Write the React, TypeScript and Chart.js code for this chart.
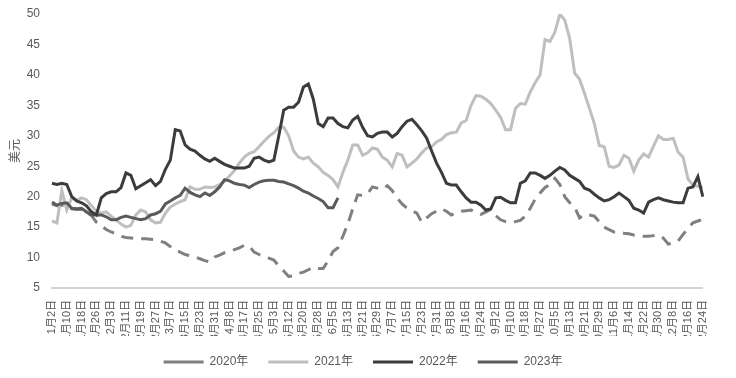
import React, { useEffect, useRef } from 'react';
import { Chart, registerables } from 'chart.js';

Chart.register(...registerables);

const FONT = "'Liberation Sans', 'Noto Sans CJK SC', sans-serif";

const tickLabels = [
  '1月2日', '1月10日', '1月18日', '1月26日', '2月3日', '2月11日', '2月19日', '2月27日',
  '3月7日', '3月15日', '3月23日', '3月31日', '4月8日', '4月17日', '4月25日', '5月3日',
  '5月12日', '5月20日', '5月28日', '6月5日', '6月13日', '6月21日', '6月29日', '7月7日',
  '7月15日', '7月23日', '7月31日', '8月8日', '8月16日', '8月24日', '9月2日', '9月10日',
  '9月18日', '9月27日', '10月5日', '10月13日', '10月21日', '10月29日', '11月6日', '11月14日',
  '11月22日', '11月30日', '12月8日', '12月16日', '12月24日',
];

// observations between two labelled dates
const SUB = 3;

const seriesNames = ['2020年', '2021年', '2022年', '2023年'];

const values2020 = [
  18.8, 18.5, 18.6, 18.6, 18.0, 17.9, 17.9, 17.4, 16.9, 15.8,
  15.2, 14.6, 14.2, 13.9, 13.5, 13.3, 13.2, 13.1, 13.1, 13.1,
  13.0, 12.9, 12.7, 12.4, 11.8, 11.2, 10.9, 10.5, 10.3, 10.1,
  9.8, 9.5, 9.3, 10.1, 10.4, 10.8, 11.0, 11.3, 11.6, 12.0,
  11.9, 10.9, 10.5, 10.1, 9.9, 9.6, 8.6, 7.8, 6.9, 7.0,
  7.4, 7.6, 8.0, 8.4, 8.2, 8.2, 9.5, 11.0, 11.6, 13.5,
  15.5, 18.0, 20.3, 20.2, 20.5, 21.6, 21.4, 21.2, 21.8, 21.0,
  19.8, 18.8, 18.1, 17.7, 17.3, 15.8, 16.5, 17.2, 17.6, 18.0,
  17.6, 17.0, 17.4, 17.6, 17.7, 17.8, 17.4, 17.1, 17.5, 17.9,
  16.9, 16.2, 15.9, 15.7, 15.9, 16.1, 16.8, 18.1, 19.6, 20.6,
  21.5, 22.0, 23.0, 22.0, 20.0, 19.0, 18.3, 16.5, 17.1, 17.0,
  16.8, 15.9, 15.0, 14.6, 14.2, 14.2, 14.0, 13.9, 13.7, 13.6,
  13.5, 13.5, 13.6, 13.7, 13.2, 12.2, 12.4, 12.7, 13.8, 14.8,
  15.7, 16.0, 16.3,
];

const values2021 = [
  16.0, 15.7, 21.0, 17.8, 19.8, 19.4, 19.8, 19.5, 18.5, 17.6,
  17.3, 17.5, 16.8, 16.2, 15.5, 15.0, 15.3, 17.0, 17.8, 17.5,
  16.2, 15.7, 15.8, 17.3, 18.3, 18.8, 19.2, 19.5, 21.6, 21.2,
  21.2, 21.6, 21.5, 21.6, 22.0, 22.5, 23.4, 24.3, 25.5, 26.5,
  27.1, 27.4, 28.2, 29.1, 29.9, 30.5, 31.4, 31.4, 30.0, 27.5,
  26.5, 26.2, 26.5, 25.5, 24.9, 24.0, 23.5, 22.8, 21.6, 24.0,
  26.0, 28.5, 28.5, 26.8, 27.2, 28.0, 27.8, 26.5, 26.0, 24.9,
  27.1, 26.8, 24.9, 25.5, 26.2, 27.2, 28.0, 28.2, 29.0, 29.4,
  30.2, 30.5, 30.6, 32.1, 32.5, 35.0, 36.6, 36.5, 36.0, 35.3,
  34.2, 33.0, 31.0, 31.0, 34.5, 35.3, 35.2, 37.2, 38.7, 40.0,
  45.8, 45.5, 47.0, 50.0, 49.0, 46.0, 40.3, 39.3, 37.0, 34.5,
  32.0, 28.4, 28.2, 25.0, 24.8, 25.2, 26.8, 26.3, 24.2, 26.0,
  27.0, 26.5, 28.3, 30.0, 29.4, 29.4, 29.6, 27.3, 26.5, 22.9,
  21.9, 21.7, 21.5,
];

const values2022 = [
  22.2, 22.0, 22.2, 22.0, 20.0, 19.3, 19.0, 18.5, 17.5, 17.0,
  19.8, 20.5, 20.8, 20.8, 21.5, 23.9, 23.5, 21.3, 21.8, 22.3,
  22.8, 21.8, 22.5, 24.5, 26.0, 31.0, 30.8, 28.5, 27.8, 27.5,
  26.8, 26.2, 25.8, 26.3, 25.8, 25.3, 25.0, 24.7, 24.7, 24.7,
  25.0, 26.3, 26.5, 26.0, 25.7, 26.0, 30.0, 34.2, 34.7, 34.7,
  35.5, 38.0, 38.5, 36.0, 32.0, 31.5, 32.9, 32.9, 32.0, 31.5,
  31.3, 32.6, 33.2, 31.4, 30.0, 29.8, 30.4, 30.6, 30.6, 29.8,
  30.4, 31.5, 32.4, 32.7, 31.8, 30.8, 29.6, 27.5, 25.5, 24.0,
  22.2, 21.9, 21.9, 20.8, 19.8, 19.1, 19.1, 18.6, 17.8, 18.0,
  19.8, 19.9, 19.4, 19.0, 19.0, 22.2, 22.6, 23.9, 23.9, 23.5,
  23.0, 23.5, 24.2, 24.8, 24.4, 23.5, 23.0, 22.5, 21.4, 21.1,
  20.4, 19.8, 19.3, 19.5, 20.0, 20.6, 20.0, 19.4, 18.1, 17.8,
  17.3, 19.1, 19.5, 19.8, 19.5, 19.3, 19.1, 19.0, 19.0, 21.4,
  21.6, 23.3, 20.0,
];

const values2023 = [
  19.1, 18.6, 18.9, 19.0, 18.1, 18.0, 18.1, 17.5, 17.0, 17.0,
  17.0, 16.7, 16.2, 16.2, 16.6, 16.8, 16.6, 16.4, 16.2, 16.4,
  17.0, 17.2, 17.6, 18.8, 19.3, 19.8, 20.2, 21.4, 20.7, 20.3,
  20.0, 20.6, 20.2, 20.8, 21.6, 22.8, 22.6, 22.2, 22.0, 21.9,
  21.5, 22.0, 22.4, 22.6, 22.7, 22.7, 22.5, 22.4, 22.1, 21.8,
  21.4, 20.9, 20.6, 20.1, 19.7, 19.2, 18.2, 18.2, 19.8,
];

const yMin = 5;
const yMax = 50;
const yStep = 5;
const yTitle = '美元';

export default function App() {
  const ref = useRef<HTMLCanvasElement>(null);

  useEffect(() => {
    const n = (tickLabels.length - 1) * SUB + 1;
    const labels = Array.from({ length: n }, (_, i) => (i % SUB === 0 ? tickLabels[i / SUB] : ''));

    const chart = new Chart(ref.current as HTMLCanvasElement, {
      type: 'line',
      data: {
        labels,
        datasets: [
          {
            label: seriesNames[0],
            data: values2020,
            borderColor: '#808080',
            backgroundColor: '#808080',
            borderWidth: 3,
            borderDash: [12, 8],
            pointRadius: 0,
            tension: 0,
            order: 3,
          },
          {
            label: seriesNames[1],
            data: values2021,
            borderColor: '#bfbfbf',
            backgroundColor: '#bfbfbf',
            borderWidth: 3,
            pointRadius: 0,
            tension: 0,
            order: 2,
          },
          {
            label: seriesNames[2],
            data: values2022,
            borderColor: '#3c3c3c',
            backgroundColor: '#3c3c3c',
            borderWidth: 3,
            pointRadius: 0,
            tension: 0,
            order: 0,
          },
          {
            label: seriesNames[3],
            data: values2023,
            borderColor: '#5a5a5a',
            backgroundColor: '#5a5a5a',
            borderWidth: 3,
            pointRadius: 0,
            tension: 0,
            order: 1,
          },
        ],
      },
      options: {
        animation: false,
        responsive: true,
        maintainAspectRatio: false,
        layout: { padding: { left: 0, right: 10, top: 0, bottom: 0 } },
        plugins: {
          tooltip: { enabled: false },
          legend: {
            position: 'bottom',
            labels: {
              usePointStyle: true,
              pointStyle: 'line',
              pointStyleWidth: 40,
              boxWidth: 40,
              padding: 20,
              color: '#595959',
              font: { family: FONT, size: 12 },
              sort: (a: any, b: any) => a.datasetIndex - b.datasetIndex,
            },
          },
        },
        scales: {
          x: {
            type: 'category',
            offset: false,
            grid: { display: false, drawTicks: false },
            border: { display: true, color: '#d4d4d4', width: 2 },
            ticks: {
              autoSkip: false,
              maxRotation: 90,
              minRotation: 90,
              padding: 12,
              color: '#595959',
              font: { family: FONT, size: 11 },
            },
            afterFit: (scale: any) => {
              scale.height = 48;
            },
          },
          y: {
            min: yMin,
            max: yMax,
            grid: { display: false, drawTicks: false },
            border: { display: false },
            ticks: {
              stepSize: yStep,
              padding: 12,
              color: '#595959',
              font: { family: FONT, size: 12 },
            },
            title: {
              display: true,
              text: yTitle,
              color: '#595959',
              padding: 0,
              font: { family: FONT, size: 12 },
            },
            afterFit: (scale: any) => {
              scale.width = 44;
              scale.paddingTop = 6;
              scale.paddingBottom = 6;
            },
          },
        },
      },
    });
    return () => chart.destroy();
  }, []);

  return (
    <div style={{ position: 'relative', width: 720, height: 370 }}>
      <canvas ref={ref} />
    </div>
  );
}
